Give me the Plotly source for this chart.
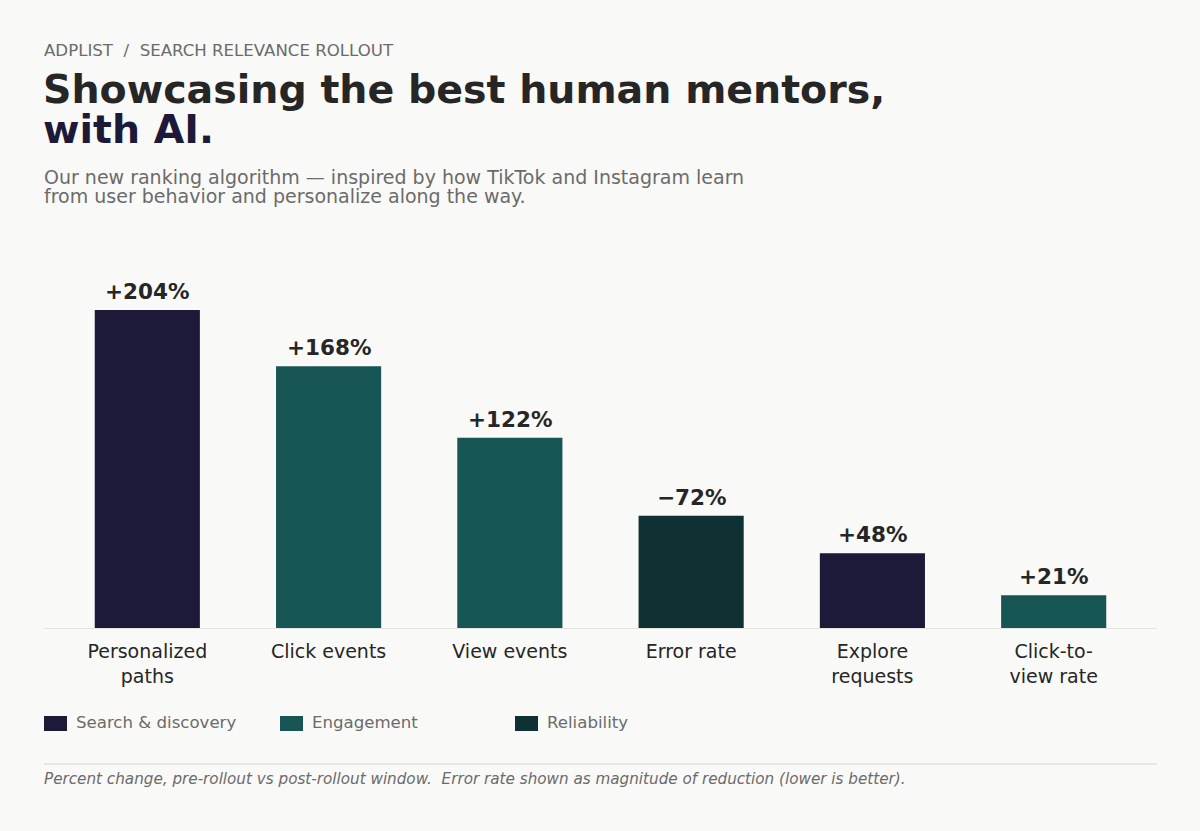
import plotly.graph_objects as go

# dados do grafico
categorias = ["Personalized<br>paths", "Click events", "View events", "Error rate",
              "Explore<br>requests", "Click-to-<br>view rate"]
valores = [204, 168, 122, 72, 48, 21]
rotulos = ["+204%", "+168%", "+122%", "\u221272%", "+48%", "+21%"]
grupos = ["Search & discovery", "Engagement", "Engagement", "Reliability",
          "Search & discovery", "Engagement"]

cores = {"Search & discovery": "#1c1a38", "Engagement": "#185656", "Reliability": "#0f3133"}
grupos_legenda = ["Search & discovery", "Engagement", "Reliability"]

W, H = 1200, 831
ML, MR, MT, MB = 44, 43, 250, 203
FONTE = "DejaVu Sans"
CINZA = "#6b6b6b"
ESCURO = "#262626"
FUNDO = "#f9f9f7"


def px_x(x):  # pixel -> paper
    return (x - ML) / (W - ML - MR)


def px_y(y):
    return (H - MB - y) / (H - MT - MB)


fig = go.Figure()
fig.add_trace(go.Bar(
    x=categorias, y=valores,
    marker=dict(color=[cores[g] for g in grupos], line=dict(width=0)),
    width=0.58, showlegend=False, hoverinfo="skip",
))

anot = []
# rotulos em cima das barras
for c, v, r in zip(categorias, valores, rotulos):
    anot.append(dict(x=c, y=v, text="<b>" + r + "</b>", showarrow=False, yanchor="bottom",
                     yshift=4, font=dict(family=FONTE, size=21.5, color=ESCURO)))

# textos do cabecalho
anot.append(dict(xref="paper", yref="paper", x=px_x(42), y=px_y(51), xanchor="left", yanchor="middle",
                 text="ADPLIST  /  SEARCH RELEVANCE ROLLOUT", showarrow=False,
                 font=dict(family=FONTE, size=16.6, color=CINZA)))
anot.append(dict(xref="paper", yref="paper", x=px_x(41), y=px_y(89), xanchor="left", yanchor="middle",
                 text="<b>Showcasing the best human mentors,</b>", showarrow=False,
                 font=dict(family=FONTE, size=39.5, color=ESCURO)))
anot.append(dict(xref="paper", yref="paper", x=px_x(41), y=px_y(129), xanchor="left", yanchor="middle",
                 text="<b>with AI.</b>", showarrow=False,
                 font=dict(family=FONTE, size=39.5, color="#1c1a38")))
anot.append(dict(xref="paper", yref="paper", x=px_x(42), y=px_y(177), xanchor="left", yanchor="middle",
                 text="Our new ranking algorithm \u2014 inspired by how TikTok and Instagram learn",
                 showarrow=False, font=dict(family=FONTE, size=19, color=CINZA)))
anot.append(dict(xref="paper", yref="paper", x=px_x(42), y=px_y(196), xanchor="left", yanchor="middle",
                 text="from user behavior and personalize along the way.",
                 showarrow=False, font=dict(family=FONTE, size=19, color=CINZA)))

# legenda feita a mao
formas = []
leg_x = [44, 280, 515]
for gx, g in zip(leg_x, grupos_legenda):
    formas.append(dict(type="rect", xref="paper", yref="paper",
                       x0=px_x(gx), x1=px_x(gx + 23), y0=px_y(731), y1=px_y(716),
                       fillcolor=cores[g], line=dict(width=0)))
    anot.append(dict(xref="paper", yref="paper", x=px_x(gx + 30), y=px_y(722), xanchor="left",
                     yanchor="middle", text=g, showarrow=False,
                     font=dict(family=FONTE, size=16.6, color=CINZA)))

# linha e nota de rodape
formas.append(dict(type="line", xref="paper", yref="paper", x0=0, x1=1,
                   y0=px_y(764), y1=px_y(764), line=dict(color="#e3e1dc", width=1.5)))
anot.append(dict(xref="paper", yref="paper", x=px_x(42), y=px_y(779), xanchor="left", yanchor="middle",
                 text="<i>Percent change, pre-rollout vs post-rollout window.  Error rate shown as magnitude of reduction (lower is better).</i>",
                 showarrow=False, font=dict(family=FONTE, size=15.2, color=CINZA)))

fig.update_layout(
    width=W, height=H,
    margin=dict(l=ML, r=MR, t=MT, b=MB),
    paper_bgcolor=FUNDO, plot_bgcolor=FUNDO,
    annotations=anot, shapes=formas,
    xaxis=dict(range=[-0.57, 5.57], showgrid=False, showline=True, linecolor="#e6e4df", linewidth=1,
               ticks="", ticklabelstandoff=6,
               tickfont=dict(family=FONTE, size=19, color=ESCURO), fixedrange=True),
    yaxis=dict(range=[0, 242.5], visible=False, fixedrange=True),
    font=dict(family=FONTE),
)

# tira a margem do body da pagina
fig.write_html("out.html", config={"displayModeBar": False},
               post_script="document.body.style.margin='0';document.body.style.background='" + FUNDO + "';")
